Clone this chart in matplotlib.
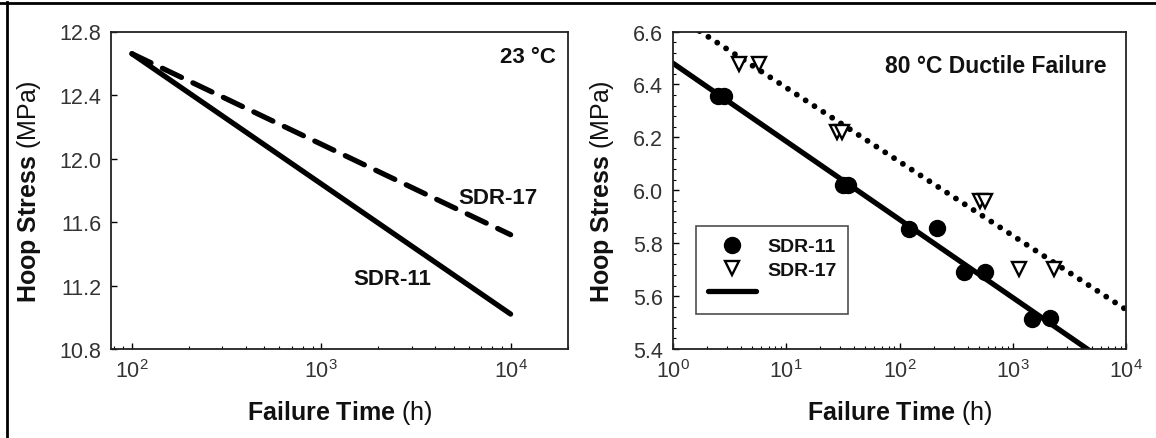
import numpy as np
import matplotlib
matplotlib.use("Agg")
import matplotlib.pyplot as plt
from matplotlib.lines import Line2D
from matplotlib.ticker import FixedLocator, LogLocator, NullFormatter, MultipleLocator, FormatStrFormatter

plt.rcParams['font.family'] = ['Liberation Sans', 'DejaVu Sans']
plt.rcParams['mathtext.fontset'] = 'custom'
plt.rcParams['mathtext.rm'] = 'Liberation Sans'
plt.rcParams['mathtext.bf'] = 'Liberation Sans:bold'
plt.rcParams['mathtext.it'] = 'Liberation Sans:italic'
plt.rcParams['mathtext.sf'] = 'Liberation Sans'

# ---- 23 °C regression lines (hours, MPa) ----
t23 = [100, 10000]
sdr11_23 = [12.66, 11.02]
sdr17_23 = [12.66, 11.52]

# ---- 80 °C ductile failure data ----
sdr11_t = [2.5, 2.8, 32, 35, 122, 215, 372, 571, 1466, 2135]
sdr11_s = [6.355, 6.355, 6.02, 6.02, 5.853, 5.856, 5.69, 5.69, 5.513, 5.516]
sdr17_t = [3.8, 5.8, 28, 31, 510, 570, 1125, 2300]
sdr17_s = [6.477, 6.477, 6.222, 6.222, 5.96, 5.96, 5.702, 5.702]
fit11_t = [1, 10000]
fit11_s = [6.48, 5.299]
fit17_t = [1, 10000]
fit17_s = [6.667, 5.549]

left_yticks = [10.8, 11.2, 11.6, 12.0, 12.4, 12.8]
right_yticks = [5.4, 5.6, 5.8, 6.0, 6.2, 6.4, 6.6]

W, H = 1156, 439
fig = plt.figure(figsize=(W / 100, H / 100), dpi=100)

bot = 1 - 350 / H
top = 1 - 32.5 / H
axL = fig.add_axes([111 / W, bot, 457 / W, top - bot])
axR = fig.add_axes([673 / W, bot, 453 / W, top - bot])

tick_col = '#333333'
for ax in (axL, axR):
    ax.set_xscale('log')
    for s in ax.spines.values():
        s.set_linewidth(1.3)
        s.set_color('#222222')
    ax.tick_params(which='major', direction='in', length=4, width=1, pad=7,
                   labelsize=15.5, labelcolor=tick_col, top=False, right=False)
    ax.tick_params(which='minor', direction='in', length=2.5, width=0.8,
                   top=False, right=False)
    ax.xaxis.set_major_locator(LogLocator(base=10, numticks=10))
    ax.xaxis.set_minor_locator(LogLocator(base=10, subs=np.arange(2, 10), numticks=10))
    ax.xaxis.set_minor_formatter(NullFormatter())

# ---- left panel ----
axL.plot(t23, sdr11_23, color='black', lw=3.8, solid_capstyle='round')
axL.plot(t23, sdr17_23, color='black', lw=3.8, linestyle=(0, (4.0, 2.4)),
         dash_capstyle='round')
axL.set_xlim(77.5, 20100)
axL.set_ylim(10.8, 12.8)
axL.yaxis.set_major_locator(FixedLocator(left_yticks))
axL.yaxis.set_major_formatter(FormatStrFormatter('%.1f'))
axL.text(0.973, 0.921, '23 °C', transform=axL.transAxes, ha='right', va='center',
         fontsize=16, fontweight='bold', color='#111111')
axL.text(8530, 11.755, 'SDR-17', ha='center', va='center',
         fontsize=16, fontweight='bold', color='#111111')
axL.text(2380, 11.245, 'SDR-11', ha='center', va='center',
         fontsize=16, fontweight='bold', color='#111111')

# ---- right panel ----
axR.plot(fit17_t, fit17_s, color='black', lw=4.2, linestyle=(0, (0.01, 1.8)),
         dash_capstyle='round')
fit_line, = axR.plot(fit11_t, fit11_s, color='black', lw=3.8, solid_capstyle='round')
circ, = axR.plot(sdr11_t, sdr11_s, linestyle='none', marker='o', ms=11.5,
                 mfc='black', mec='black')
tri, = axR.plot(sdr17_t, sdr17_s, linestyle='none', marker='v', ms=10.5,
                mfc='white', mec='black', mew=1.7)
axR.set_xlim(1, 10000)
axR.set_ylim(5.4, 6.6)
axR.yaxis.set_major_locator(FixedLocator(right_yticks))
axR.yaxis.set_minor_locator(MultipleLocator(0.04))
axR.yaxis.set_major_formatter(FormatStrFormatter('%.1f'))
axR.text(0.957, 0.892, '80 °C Ductile Failure', transform=axR.transAxes,
         ha='right', va='center', fontsize=16.5, fontweight='bold', color='#111111')

leg = axR.legend([circ, tri, fit_line], ['SDR-11', 'SDR-17', ''],
                 loc='upper left', bbox_to_anchor=(0.051, 0.387), borderaxespad=0,
                 fancybox=False, frameon=True,
                 prop={'weight': 'bold', 'size': 14},
                 handlelength=2.5, handletextpad=0.55, labelspacing=0.3,
                 borderpad=0.6)
leg.get_frame().set_edgecolor('#222222')
leg.get_frame().set_linewidth(1.2)
for txt in leg.get_texts():
    txt.set_color('#111111')

# ---- axis labels ----
for ax, xl in ((axL, -0.148), (axR, -0.126)):
    ax.set_ylabel(r'$\mathbf{Hoop\ Stress}$ (MPa)', fontsize=18, color='#111111')
    ax.yaxis.set_label_coords(xl, 0.5)
    ax.set_xlabel(r'$\mathbf{Failure\ Time}$ (h)', fontsize=18, color='#111111')
    ax.xaxis.set_label_coords(0.5, -0.155)

# ---- frame lines along the top and left edges ----
fig.add_artist(Line2D([0, 1], [1 - 4 / H, 1 - 4 / H], transform=fig.transFigure,
                      color='black', lw=2))
fig.add_artist(Line2D([7 / W, 7 / W], [0, 1 - 3 / H], transform=fig.transFigure,
                      color='black', lw=2))

fig.savefig('out.png', dpi=100)
